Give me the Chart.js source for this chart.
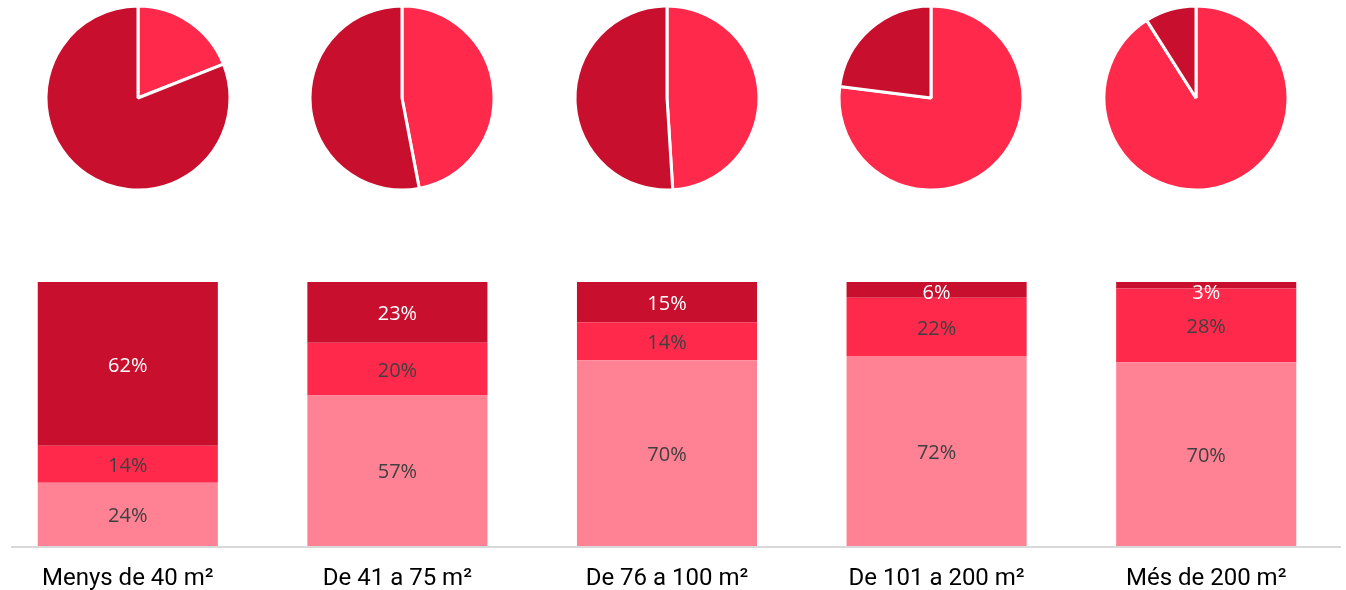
<!DOCTYPE html>
<html>
<head>
<meta charset="utf-8">
<script src="https://cdn.jsdelivr.net/npm/chart.js@4"></script>
<style>
    html, body { margin: 0; padding: 0; background: #fff; overflow: hidden; }
    body { width: 1346px; height: 590px; position: relative; }
    .pie { position: absolute; top: 0; width: 196px; height: 196px; }
    #barWrap { position: absolute; left: -7px; top: 0; width: 1348px; height: 590px; }
</style>
</head>
<body>
<div id="pies"></div>
<div id="barWrap"><canvas id="barChart"></canvas></div>
<script>
// Categories
const categories = ['Menys de 40 m²', 'De 41 a 75 m²', 'De 76 a 100 m²', 'De 101 a 200 m²', 'Més de 200 m²'];

// Stacked bars (bottom to top)
const lightSeries = [24, 57, 70.4, 72, 69.6];
const mediumSeries = [14, 20, 14.4, 22, 27.9];
const darkSeries = [62, 23, 15.2, 6, 2.5];

// Pies (clockwise from 12 o'clock)
const pieMedium = [19, 47, 49, 77, 91];
const pieDark = [81, 53, 51, 23, 9];

const DARK = '#C8102E';
const MEDIUM = '#FF2A4B';
const LIGHT = '#FF8194';

// Pie positions
const pieCenters = [138, 402, 667, 931, 1196];

document.addEventListener('DOMContentLoaded', function () {
    initPies();
    initBarChart();
});

function initPies() {
    const holder = document.getElementById('pies');
    pieCenters.forEach((cx, i) => {
        const div = document.createElement('div');
        div.className = 'pie';
        div.style.left = (cx - 98) + 'px';
        const canvas = document.createElement('canvas');
        div.appendChild(canvas);
        holder.appendChild(div);

        new Chart(canvas, {
            type: 'pie',
            data: {
                labels: ['A', 'B'],
                datasets: [{
                    data: [pieMedium[i], pieDark[i]],
                    backgroundColor: [MEDIUM, DARK],
                    borderColor: '#ffffff',
                    borderWidth: 3
                }]
            },
            options: {
                responsive: true,
                maintainAspectRatio: false,
                animation: false,
                radius: 92,
                plugins: {
                    legend: { display: false },
                    tooltip: { enabled: false }
                }
            }
        });
    });
}

// Percent labels inside the segments + baseline
const segmentLabels = {
    id: 'segmentLabels',
    afterDatasetsDraw(chart) {
        const ctx = chart.ctx;
        ctx.save();
        ctx.font = '20px "Open Sans", sans-serif';
        ctx.textAlign = 'center';
        ctx.textBaseline = 'middle';
        chart.data.datasets.forEach((ds, di) => {
            const meta = chart.getDatasetMeta(di);
            meta.data.forEach((bar, i) => {
                const v = ds.data[i];
                let y = (bar.y + bar.base) / 2;
                if (y < chart.chartArea.top + 9) y = chart.chartArea.top + 9;
                ctx.fillStyle = di === 2 ? '#ffffff' : '#404040';
                ctx.fillText(Math.round(v) + '%', bar.x, y + 2);
            });
        });
        // baseline
        ctx.fillStyle = '#d9d9d9';
        ctx.fillRect(18, chart.chartArea.bottom, 1330, 2);
        ctx.restore();
    }
};

function initBarChart() {
    const ctx = document.getElementById('barChart');

    new Chart(ctx, {
        type: 'bar',
        data: {
            labels: categories,
            datasets: [
                { label: 'Light', data: lightSeries, backgroundColor: LIGHT },
                { label: 'Medium', data: mediumSeries, backgroundColor: MEDIUM },
                { label: 'Dark', data: darkSeries, backgroundColor: DARK }
            ]
        },
        options: {
            responsive: true,
            maintainAspectRatio: false,
            animation: false,
            layout: { padding: { top: 282, left: 0, right: 0, bottom: 0 } },
            datasets: {
                bar: { categoryPercentage: 0.668, barPercentage: 1, borderWidth: 0 }
            },
            plugins: {
                legend: { display: false },
                tooltip: { enabled: false }
            },
            scales: {
                x: {
                    stacked: true,
                    grid: { display: false },
                    border: { display: false },
                    ticks: {
                        color: '#000000',
                        font: { family: 'Roboto', size: 24 },
                        padding: 11,
                        maxRotation: 0
                    },
                    afterFit: function (scale) { scale.height = 44; }
                },
                y: {
                    stacked: true,
                    display: false,
                    min: 0,
                    max: 100
                }
            }
        },
        plugins: [segmentLabels]
    });
}
</script>
</body>
</html>
